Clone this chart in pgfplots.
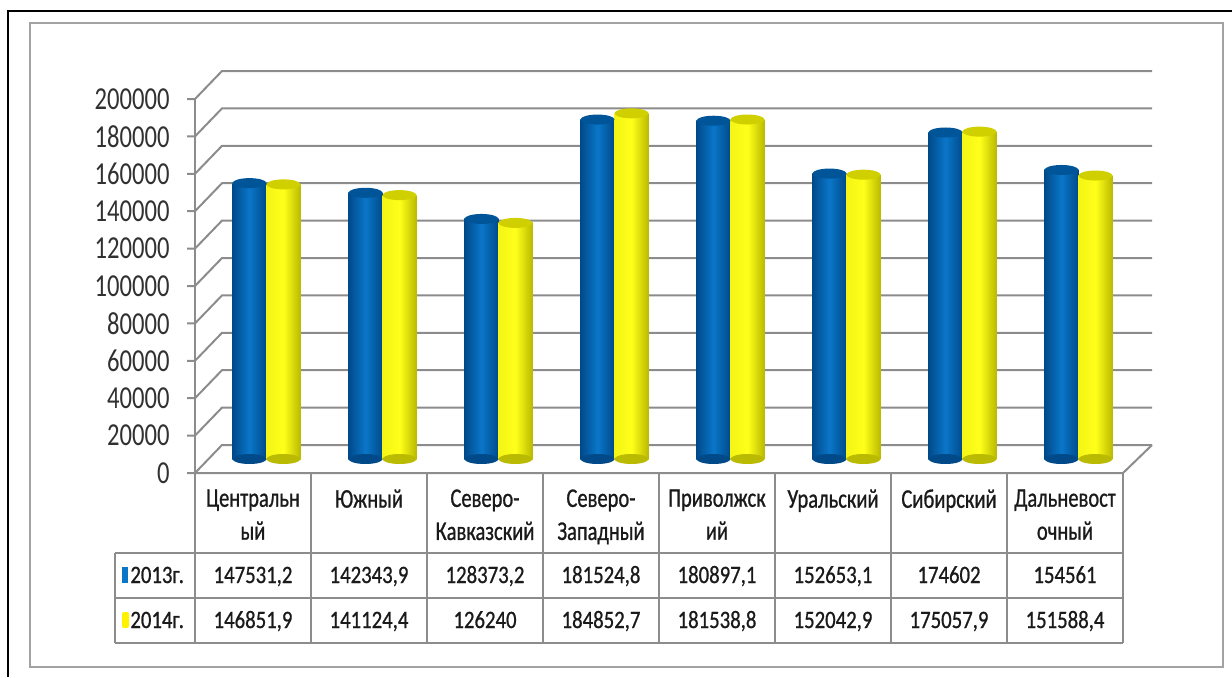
\documentclass[border=0pt]{standalone}
\usepackage{fontspec}
\setmainfont{Carlito}
\newfontfamily\tickfont[FakeStretch=0.77]{Carlito}
\newfontfamily\headfont[FakeStretch=0.76,FakeBold=0.8]{Carlito}
\newfontfamily\tabfont[FakeStretch=0.83,FakeBold=0.8]{Carlito}
\usepackage{pgfplots}
\usepackage{pgfplotstable}
\pgfplotsset{compat=1.18}

\definecolor{bluedk}{HTML}{004A8A}
\definecolor{bluelt}{HTML}{0A76C8}
\definecolor{bluetop}{HTML}{005599}
\definecolor{yeldk}{HTML}{BABA00}
\definecolor{yellt}{HTML}{FFFF1A}
\definecolor{yeltop}{HTML}{D0D000}
\definecolor{gridc}{HTML}{8C8C8C}
\definecolor{txt}{HTML}{1A1A1A}

% 2013 / 2014 by region
\pgfplotstableread{
y13 y14
147531.2 146851.9
142343.9 141124.4
128373.2 126240
181524.8 184852.7
180897.1 181538.8
152653.1 152042.9
174602 175057.9
154561 151588.4
}\data

\pgfdeclareplotmark{cyl}{%
  \pgfpathellipse{\pgfpointorigin}{\pgfqpoint{8.5pt}{0pt}}{\pgfqpoint{0pt}{2.5pt}}%
  \pgfusepathqfill}

\begin{document}
\begin{tikzpicture}
\useasboundingbox (0pt,0pt) rectangle (616pt,338.5pt);
% frames
\draw[black, line width=1pt] (4pt,0pt) -- (4pt,333pt) -- (616pt,333pt);
\draw[gridc!80, line width=0.8pt] (15pt,5pt) rectangle (611.5pt,327pt);

% walls
\foreach \k in {0,...,10}{
  \draw[gridc, line width=1pt] (93.5pt,{102pt+18.7pt*\k}) -- (97.5pt,{102pt+18.7pt*\k})
       -- (111pt,{116pt+18.7pt*\k}) -- (576pt,{116pt+18.7pt*\k});
}
\draw[gridc, line width=1pt] (97.5pt,102pt) -- (97.5pt,289pt);
\draw[gridc, line width=1pt] (97.5pt,102pt) -- (561.5pt,102pt) -- (576pt,116pt);

\begin{axis}[
  at={(104.25pt,109pt)}, anchor=south west,
  width=464pt, height=187pt, scale only axis,
  xmin=-0.5, xmax=7.5, ymin=0, ymax=200000,
  xtick=\empty, ytick={0,20000,...,200000},
  yticklabels={0,20000,40000,60000,80000,100000,120000,140000,160000,180000,200000},
  axis line style={draw=none}, major tick length=0pt,
  scaled y ticks=false,
  yticklabel style={font=\tickfont\fontsize{16}{16}\selectfont, text=txt!90,
    anchor=east, inner sep=0pt, xshift=-19.25pt, yshift=-7pt},
  clip=false,
]
\addplot[only marks, mark=cyl, mark options={fill=bluedk, draw=none}]
  table[x expr=\coordindex-0.1466, y expr=0]{\data};
\addplot[only marks, mark=cyl, mark options={fill=yeldk, draw=none}]
  table[x expr=\coordindex+0.1466, y expr=0]{\data};
\pgfplotsinvokeforeach{0,...,7}{
\addplot[ybar, bar width=17pt, bar shift=0pt, draw=none,
  left color=bluedk, right color=bluedk, middle color=bluelt,
  restrict expr to domain={\coordindex}{#1:#1}]
  table[x expr=\coordindex-0.1466, y=y13]{\data};
\addplot[ybar, bar width=17pt, bar shift=0pt, draw=none,
  left color=yellt!85!yeldk, right color=yeldk, middle color=yellt,
  restrict expr to domain={\coordindex}{#1:#1}]
  table[x expr=\coordindex+0.1466, y=y14]{\data};
}
\addplot[only marks, mark=cyl, mark options={fill=bluetop, draw=none}]
  table[x expr=\coordindex-0.1466, y=y13]{\data};
\addplot[only marks, mark=cyl, mark options={fill=yeltop, draw=none}]
  table[x expr=\coordindex+0.1466, y=y14]{\data};
\end{axis}

% data table
\begin{scope}[gridc, line width=1pt]
\foreach \k in {0,...,8}{ \draw ({97.5pt+58pt*\k},102pt) -- ({97.5pt+58pt*\k},17pt); }
\draw (57.5pt,62pt) -- (561.5pt,62pt);
\draw (57.5pt,39.5pt) -- (561.5pt,39.5pt);
\draw (57.5pt,17pt) -- (561.5pt,17pt);
\draw (57.5pt,62pt) -- (57.5pt,17pt);
\end{scope}

\foreach \t [count=\k from 0] in {{Центральн\\ый},{Южный},{Северо-\\Кавказский},
  {Северо-\\Западный},{Приволжск\\ий},{Уральский},{Сибирский},{Дальневост\\очный}}{
  \node[anchor=north, align=center, inner sep=0pt, text=txt,
    font=\headfont\fontsize{13.5}{16.5}\selectfont] at ({126.5pt+58pt*\k},94pt) {\t};
}
\foreach \t [count=\k from 0] in {{147531,2},{142343,9},{128373,2},{181524,8},{180897,1},{152653,1},{174602},{154561}}{
  \node[anchor=base, inner sep=0pt, text=txt, font=\tabfont\fontsize{12.5}{12.5}\selectfont]
    at ({126.5pt+58pt*\k},47pt) {\t};
}
\foreach \t [count=\k from 0] in {{146851,9},{141124,4},{126240},{184852,7},{181538,8},{152042,9},{175057,9},{151588,4}}{
  \node[anchor=base, inner sep=0pt, text=txt, font=\tabfont\fontsize{12.5}{12.5}\selectfont]
    at ({126.5pt+58pt*\k},24.5pt) {\t};
}
\fill[bluelt] (61pt,47pt) rectangle (64pt,55pt);
\fill[yellow, rounded corners=1pt] (61pt,24.5pt) rectangle (64.5pt,32.5pt);
\node[anchor=base west, inner sep=0pt, text=txt, font=\tabfont\fontsize{12.5}{12.5}\selectfont] at (65pt,47pt) {2013г.};
\node[anchor=base west, inner sep=0pt, text=txt, font=\tabfont\fontsize{12.5}{12.5}\selectfont] at (65pt,24.5pt) {2014г.};
\end{tikzpicture}
\end{document}
